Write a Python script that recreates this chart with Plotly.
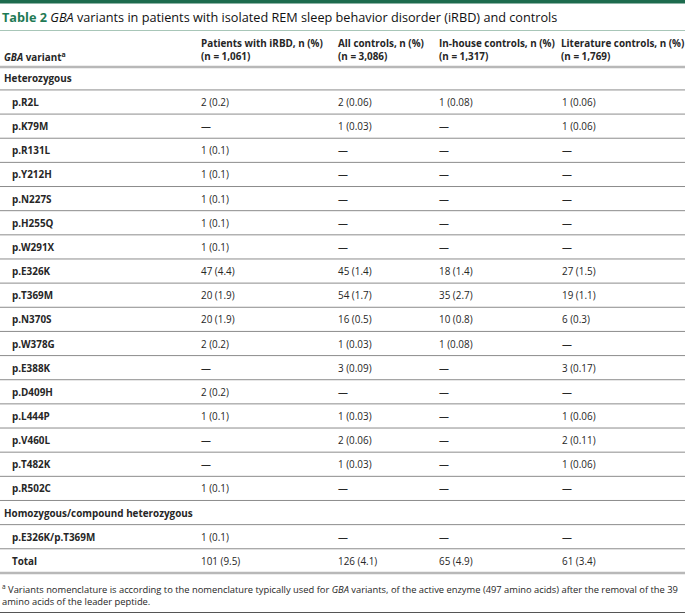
import plotly.graph_objects as go

# ---- data ----
title_label = "Table 2"
title_text = "<i>GBA</i> variants in patients with isolated REM sleep behavior disorder (iRBD) and controls"
col_headers = [
    "<i>GBA</i> variant<sup>a</sup>",
    "Patients with iRBD, n (%)<br>(n = 1,061)",
    "All controls, n (%)<br>(n = 3,086)",
    "In-house controls, n (%)<br>(n = 1,317)",
    "Literature controls, n (%)<br>(n = 1,769)",
]
group_het = "Heterozygous"
het_variants = ["p.R2L", "p.K79M", "p.R131L", "p.Y212H", "p.N227S", "p.H255Q", "p.W291X",
                "p.E326K", "p.T369M", "p.N370S", "p.W378G", "p.E388K", "p.D409H", "p.L444P",
                "p.V460L", "p.T482K", "p.R502C"]
het_irbd = ["2 (0.2)", "—", "1 (0.1)", "1 (0.1)", "1 (0.1)", "1 (0.1)", "1 (0.1)",
            "47 (4.4)", "20 (1.9)", "20 (1.9)", "2 (0.2)", "—", "2 (0.2)", "1 (0.1)",
            "—", "—", "1 (0.1)"]
het_all = ["2 (0.06)", "1 (0.03)", "—", "—", "—", "—", "—",
           "45 (1.4)", "54 (1.7)", "16 (0.5)", "1 (0.03)", "3 (0.09)", "—", "1 (0.03)",
           "2 (0.06)", "1 (0.03)", "—"]
het_inhouse = ["1 (0.08)", "—", "—", "—", "—", "—", "—",
               "18 (1.4)", "35 (2.7)", "10 (0.8)", "1 (0.08)", "—", "—", "—",
               "—", "—", "—"]
het_lit = ["1 (0.06)", "1 (0.06)", "—", "—", "—", "—", "—",
           "27 (1.5)", "19 (1.1)", "6 (0.3)", "—", "3 (0.17)", "—", "1 (0.06)",
           "2 (0.11)", "1 (0.06)", "—"]
group_hom = "Homozygous/compound heterozygous"
hom_variants = ["p.E326K/p.T369M"]
hom_irbd = ["1 (0.1)"]
hom_all = ["—"]
hom_inhouse = ["—"]
hom_lit = ["—"]
total_label = "Total"
total_values = ["101 (9.5)", "126 (4.1)", "65 (4.9)", "61 (3.4)"]
footnote = ("<sup>a</sup> Variants nomenclature is according to the nomenclature typically used for "
            "<i>GBA</i> variants, of the active enzyme (497 amino acids) after the removal of the 39<br>"
            "amino acids of the leader peptide.")

# ---- layout constants ----
W, H = 685, 614
FONT = "Open Sans"
TXT = "#262626"
GREEN = "#1f7a55"
col_x = [2, 199, 336, 437, 560]
head_x = [2, 199, 336, 437, 559]
indent_x = 10
row0 = 102.0
step = 24.15
BODY = 9.9

fig = go.Figure()
fig.add_trace(go.Scatter(x=[0, W], y=[0, H], mode="markers", marker=dict(opacity=0),
                         hoverinfo="skip", showlegend=False))

ann = []
shapes = []

def text(x, y, s, size=BODY, color=TXT, bold=False):
    if bold:
        s = "<b>" + s + "</b>"
    ann.append(dict(x=x, y=y, xref="x", yref="y", text=s, showarrow=False,
                    xanchor="left", yanchor="middle", align="left",
                    font=dict(family=FONT, size=size, color=color)))

def hline(y, color="#8c8c8c", width=1, x0=0, x1=W):
    shapes.append(dict(type="line", xref="x", yref="y", x0=x0, x1=x1, y0=y, y1=y,
                       line=dict(color=color, width=width)))

# top bar
shapes.append(dict(type="rect", xref="x", yref="y", x0=0, x1=W, y0=0, y1=3.5,
                   fillcolor="#1d6b4e", line=dict(width=0)))
# title
ann.append(dict(x=0, y=16.5, xref="x", yref="y",
                text="<b>" + title_label + "</b> <span style='color:#111'>" + title_text + "</span>",
                showarrow=False, xanchor="left", yanchor="middle",
                font=dict(family=FONT, size=12.7, color=GREEN)))
hline(30.5, color="#a8c6b8", width=1)

# header
for i, h in enumerate(col_headers):
    if i == 0:
        text(head_x[0], 57, h, bold=True)
    else:
        text(head_x[i], 49.5, h, bold=True)
hline(67, color="#b8b8b8", width=2.5)

# body rows
rows = []  # (kind, label, values)
rows.append(("group", group_het, None))
for i, v in enumerate(het_variants):
    rows.append(("var", v, [het_irbd[i], het_all[i], het_inhouse[i], het_lit[i]]))
rows.append(("group", group_hom, None))
for i, v in enumerate(hom_variants):
    rows.append(("var", v, [hom_irbd[i], hom_all[i], hom_inhouse[i], hom_lit[i]]))
rows.append(("var", total_label, total_values))

for r, (kind, label, vals) in enumerate(rows):
    yc = row0 + (r - 1) * step
    if kind == "group":
        text(col_x[0], yc, label, bold=True)
    else:
        text(indent_x, yc, label, bold=True)
        for j, v in enumerate(vals):
            text(col_x[j + 1], yc, v)
    if r < len(rows) - 1:
        hline(yc + step / 2, color="#8c8c8c", width=1)
    else:
        hline(yc + step / 2, color="#b8b8b8", width=2.5)

# footnote
ann.append(dict(x=0, y=595, xref="x", yref="y", text=footnote, showarrow=False,
                xanchor="left", yanchor="middle", align="left",
                font=dict(family=FONT, size=9.35, color=TXT)))
hline(612.5, color="#555555", width=1)

fig.update_layout(
    width=W, height=H, margin=dict(l=0, r=0, t=0, b=0),
    paper_bgcolor="white", plot_bgcolor="white",
    xaxis=dict(range=[0, W], visible=False, fixedrange=True),
    yaxis=dict(range=[H, 0], visible=False, fixedrange=True),
    annotations=ann, shapes=shapes, showlegend=False,
)
fig.write_html("out.html", config={"displayModeBar": False},
               post_script="document.body.style.margin='0';document.body.style.overflow='hidden';")
